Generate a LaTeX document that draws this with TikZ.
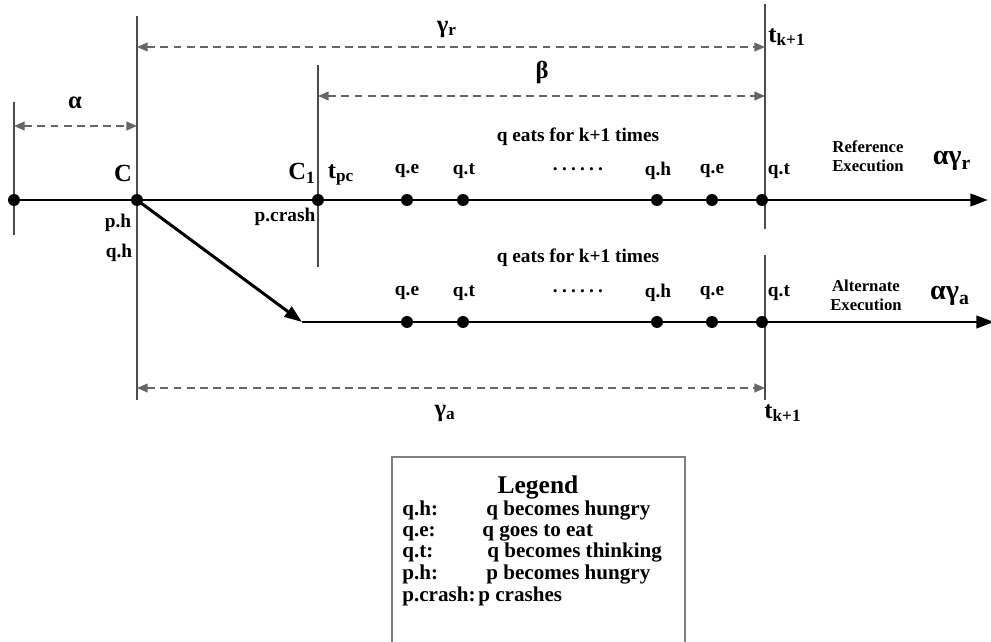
\documentclass[tikz,border=0pt]{standalone}
\usepackage{fontspec}
\setmainfont{Liberation Serif}
\usetikzlibrary{arrows.meta}

\tikzset{
  evt/.style={circle, fill=black, inner sep=0pt, minimum size=6.8pt},
  tick/.style={draw=black!70, line width=0.6pt},
  span/.style={draw=black!60, dash pattern=on 4.5pt off 3pt, line width=0.7pt,
    {Triangle[length=6pt,width=5pt]}-{Triangle[length=6pt,width=5pt]}},
  run/.style={line width=1.7pt, -{Triangle[length=10pt,width=7pt]}},
  ev/.style={font=\fontsize{11}{13}\selectfont\bfseries},
  tag/.style={font=\fontsize{14}{16}\selectfont\bfseries},
  big/.style={font=\fontsize{16}{18}\selectfont\bfseries},
  note/.style={font=\fontsize{9.5}{10.8}\selectfont\bfseries, align=center},
  key/.style={font=\fontsize{12}{14}\selectfont\bfseries, anchor=base west, inner sep=0pt}
}
\newcommand{\sixdots}{.\hspace{2.4pt}.\hspace{2.4pt}.\hspace{2.4pt}.\hspace{2.4pt}.\hspace{2.4pt}.}

\begin{document}
\begin{tikzpicture}[x=0.02cm, y=-0.02cm]
  \useasboundingbox (0,0) rectangle (991,642);
  % Time marks
  \draw[tick] (14,102) -- (14,235);
  \draw[tick] (137,16) -- (137,400);
  \draw[tick] (318,65) -- (318,267);
  \draw[tick] (765,4) -- (765,229);
  \draw[tick] (765,255) -- (765,400);
  % Spans
  \draw[span] (14,126) -- (137,126);
  \draw[span] (137,47) -- (765,47);
  \draw[span] (318,96) -- (765,96);
  \draw[span] (137,388) -- (765,388);
  \node[tag] (alpha) at (75,103) {α};
  \node[tag] (gammaR) at (447,29) {γ\textsubscript{r}};
  \node[tag] (beta) at (542,72) {β};
  \node[tag] (tkTop) at (787,37) {t\textsubscript{k+1}};
  \node[tag] (gammaA) at (445,413) {γ\textsubscript{a}};
  \node[tag] (tkBot) at (783,413) {t\textsubscript{k+1}};
  % Reference execution
  \node[evt] (r0) at (14,200) {};
  \node[evt] (rC) at (137,200) {};
  \node[evt] (rC1) at (318,200) {};
  \foreach \x/\n in {407/1, 463/2, 657/3, 712/4, 762/5}
    \node[evt] (r\n) at (\x,200) {};
  \coordinate (rEnd) at (988,200);
  \draw[run] (r0.center) -- (rEnd);
  % Alternate execution
  \coordinate (aStart) at (302,322);
  \foreach \x/\n in {407/1, 463/2, 657/3, 712/4, 762/5}
    \node[evt] (a\n) at (\x,322) {};
  \coordinate (aEnd) at (994,322);
  \draw[run] (rC.center) -- (aStart);
  \draw[line width=1.7pt] (aStart) -- (a1.center);
  \draw[run] (a1.center) -- (aEnd);
  % Point labels
  \node[tag] (labC) at (123,173) {C};
  \node[tag] (labC1) at (302,173) {C\textsubscript{1}};
  \node[tag] (labTpc) at (341,175) {t\textsubscript{pc}};
  \node[ev] (labPh) at (118,223) {p.h};
  \node[ev] (labQh) at (119,253) {q.h};
  \node[ev] (labCrash) at (285,217) {p.crash};
  \foreach \x/\lab [count=\i] in {407/q.e, 464/q.t, 658/q.h, 712/q.e, 779/q.t} {
    \node[ev] (rl\i) at (\x,171) {\lab};
    \node[ev] (al\i) at (\x,293) {\lab};
  }
  \node[ev] (rDots) at (578,169) {\sixdots};
  \node[ev] (aDots) at (578,291) {\sixdots};
  \node[ev] (rEats) at (578,137) {q eats for k+1 times};
  \node[ev] (aEats) at (578,258) {q eats for k+1 times};
  \node[note] (rNote) at (868,156) {Reference\\Execution};
  \node[note] (aNote) at (866,295) {Alternate\\Execution};
  \node[big] (rRun) at (952,161) {αγ\textsubscript{r}};
  \node[big] (aRun) at (950,296) {αγ\textsubscript{a}};
  % Legend
  \draw[draw=black!50, line width=0.6pt] (392,642) -- (392,457) -- (685,457) -- (685,642);
  \node[font=\fontsize{14.5}{16}\selectfont\bfseries] (legTitle) at (538,487) {Legend};
  \foreach \y/\k/\x/\v [count=\i] in {515/q.h:/486/q becomes hungry,
      536/q.e:/482/q goes to eat, 557/q.t:/487/q becomes thinking,
      579/p.h:/486/p becomes hungry, 601/p.crash:/478/p crashes} {
    \node[key] (key\i) at (402,\y) {\k};
    \node[key] (val\i) at (\x,\y) {\v};
  }
\end{tikzpicture}
\end{document}
